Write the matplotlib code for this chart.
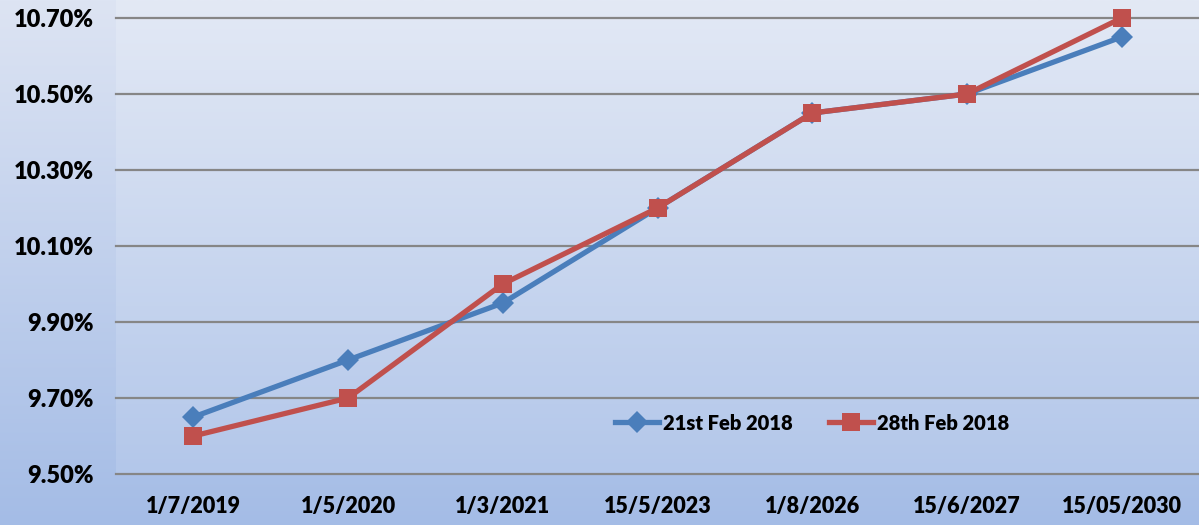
import matplotlib
matplotlib.use("Agg")
import matplotlib.pyplot as plt
import numpy as np
from matplotlib.colors import LinearSegmentedColormap
from matplotlib.ticker import FuncFormatter

categories = ["1/7/2019", "1/5/2020", "1/3/2021", "15/5/2023", "1/8/2026", "15/6/2027", "15/05/2030"]
series_21 = [9.65, 9.80, 9.95, 10.20, 10.45, 10.50, 10.65]
series_28 = [9.60, 9.70, 10.00, 10.20, 10.45, 10.50, 10.70]
yticks = [9.50, 9.70, 9.90, 10.10, 10.30, 10.50, 10.70]

FONT = "Lato"
WEIGHT = "heavy"

fig = plt.figure(figsize=(11.99, 5.25), dpi=100)

# figure background gradient
bg = fig.add_axes([0, 0, 1, 1], zorder=-10)
bg.axis("off")
cmap_fig = LinearSegmentedColormap.from_list("f", ["#a4bce6", "#dde4f3"])
grad = np.linspace(0, 1, 256).reshape(-1, 1)
bg.imshow(grad, aspect="auto", cmap=cmap_fig, origin="lower", extent=[0, 1, 0, 1])
bg.set_xlim(0, 1); bg.set_ylim(0, 1)

ax = fig.add_axes([116 / 1199, 51 / 525, 1 - 116 / 1199, 474 / 525])
ax.patch.set_alpha(0)
cmap_ax = LinearSegmentedColormap.from_list("a", ["#b3c7ea", "#e3e9f5"])
ax.imshow(grad, aspect="auto", cmap=cmap_ax, origin="lower",
          extent=[0, 1, 0, 1], transform=ax.transAxes, zorder=0)

x = np.arange(len(categories))
ax.plot(x, series_21, color="#4a7ebb", lw=3.8, marker="D", ms=11,
        markeredgewidth=0, label="21st Feb 2018", zorder=3)
ax.plot(x, series_28, color="#c0504d", lw=3.8, marker="s", ms=13,
        markeredgewidth=0, label="28th Feb 2018", zorder=4)

ax.set_xlim(-0.5, len(categories) - 0.5)
ax.set_ylim(9.5, 10.7 + 0.2 * 18 / 76)
ax.set_yticks(yticks)
ax.yaxis.set_major_formatter(FuncFormatter(lambda v, p: f"{v:.2f}%"))
ax.set_xticks(x)
ax.set_xticklabels(categories)
ax.grid(axis="y", color="#868686", lw=1.6, zorder=1)
for gl in ax.get_ygridlines():
    gl.set_clip_on(False)
ax.set_axisbelow(True)
for s in ax.spines.values():
    s.set_visible(False)
ax.tick_params(axis="both", length=0)
ax.tick_params(axis="x", pad=16, labelsize=15.5)
ax.tick_params(axis="y", pad=16, labelsize=17)
for lab in ax.get_xticklabels() + ax.get_yticklabels():
    lab.set_fontfamily(FONT)
    lab.set_fontweight(WEIGHT)

leg = ax.legend(loc="center", frameon=False,
                ncol=2, prop={"family": FONT, "weight": WEIGHT, "size": 14.5},
                handlelength=2.2, handletextpad=0.2, columnspacing=1.8)
leg.set_bbox_to_anchor(((812 - 116) / (1199 - 116), (474 - 423) / 474), transform=ax.transAxes)

fig.savefig("out.png", dpi=100)
